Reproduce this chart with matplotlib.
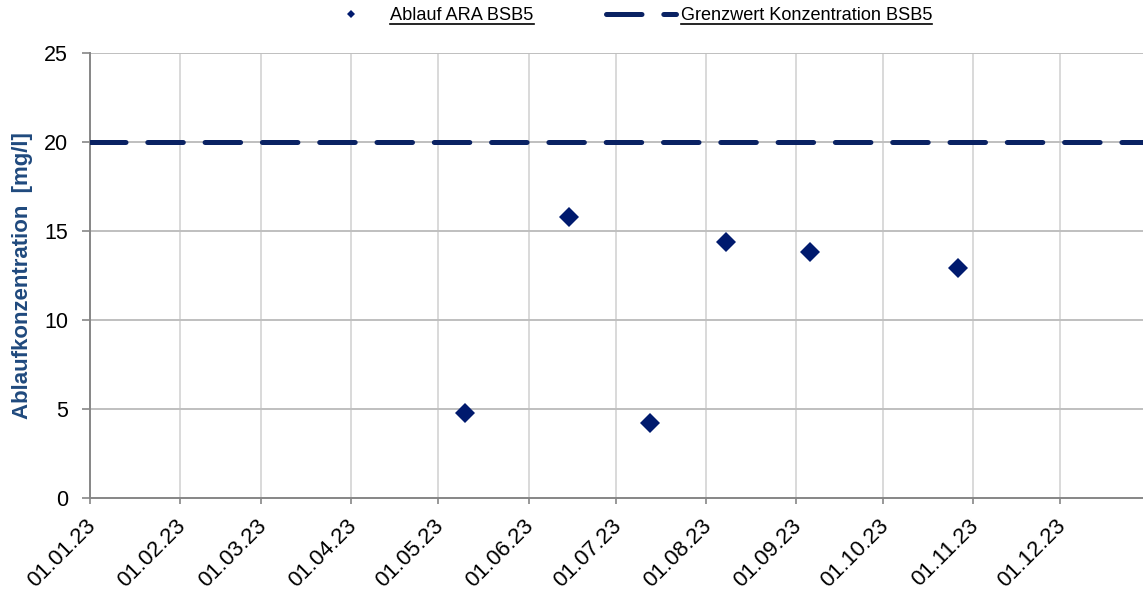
import numpy as np
import matplotlib
matplotlib.use("Agg")
import matplotlib.pyplot as plt
import matplotlib.dates as mdates
import matplotlib.transforms as mtransforms
from matplotlib.lines import Line2D

plt.rcParams['font.family'] = ['Liberation Sans', 'DejaVu Sans']

# Messwerte Ablauf ARA (BSB5)
dates = np.array(['2023-05-10', '2023-06-15', '2023-07-13',
                  '2023-08-08', '2023-09-06', '2023-10-27'], dtype='datetime64[D]')
bsb5 = [4.8, 15.8, 4.2, 14.4, 13.8, 12.9]

# Grenzwert
limit_dates = np.array(['2023-01-01', '2024-01-01'], dtype='datetime64[D]')
limit = [20, 20]

month_ticks = np.arange(np.datetime64('2023-01'), np.datetime64('2024-01'),
                        dtype='datetime64[M]').astype('datetime64[D]')

navy = '#0a2263'

fig = plt.figure(figsize=(11.43, 5.94), dpi=100)
ax = fig.add_axes([90/1143, 96/594, 1060/1143, 445/594])

ax.plot(limit_dates, limit, color=navy, lw=3.6, dash_capstyle='round',
        dashes=(7.1, 4.36), label='Grenzwert Konzentration BSB5', zorder=3)
ax.plot(dates, bsb5, 'D', color='#001a6e', ms=10.4, mew=0,
        label='Ablauf ARA BSB5', zorder=4)

ax.set_xlim(limit_dates[0], limit_dates[1])
ax.set_ylim(0, 25)
ax.set_yticks([0, 5, 10, 15, 20, 25])
ax.set_xticks(month_ticks)
ax.xaxis.set_major_formatter(mdates.DateFormatter('%d.%m.%y'))

# Gitter: horizontal dunkler als vertikal
for y in [5, 10, 15, 20, 25]:
    ax.axhline(y, color='#bfbfbf', lw=1.4, zorder=1)
for d in month_ticks[1:]:
    ax.axvline(d, color='#d9d9d9', lw=1.4, zorder=0.5)

for s in ['top', 'right']:
    ax.spines[s].set_visible(False)
for s in ['left', 'bottom']:
    ax.spines[s].set_color('#868686')
    ax.spines[s].set_linewidth(1.4)
    ax.spines[s].set_zorder(2)

ax.tick_params(axis='y', length=5.8, width=1.2, color='#868686',
               labelsize=15.5, pad=10)
ax.tick_params(axis='x', length=4.3, width=1.2, color='#868686',
               labelsize=16, pad=8)
shift = mtransforms.ScaledTranslation(-5/100, 0, fig.dpi_scale_trans)
for lab in ax.get_xticklabels():
    lab.set_rotation(45)
    lab.set_ha('right')
    lab.set_va('top')
    lab.set_rotation_mode('anchor')
    lab.set_transform(lab.get_transform() + shift)

ax.set_ylabel('Ablaufkonzentration  [mg/l]', fontsize=16, fontweight='bold',
              color='#1f497d')
ax.yaxis.set_label_coords(-57/1060, 0.5)

h, l = ax.get_legend_handles_labels()
leg = fig.legend([h[1], h[0]], [l[1], l[0]], loc='center',
                 bbox_to_anchor=(624/1143, 1 - 16/594), ncol=2, frameon=False,
                 fontsize=13.1, handlelength=3.85, handletextpad=0.25,
                 columnspacing=4.0, markerscale=0.35, borderpad=0)

# Legendentexte unterstreichen
fig.canvas.draw()
for t in leg.get_texts():
    bb = t.get_window_extent()
    fig.add_artist(Line2D([bb.x0, bb.x1], [bb.y0 + 1, bb.y0 + 1],
                          transform=None, color='black', lw=1.2))

fig.savefig('out.png', dpi=100)
